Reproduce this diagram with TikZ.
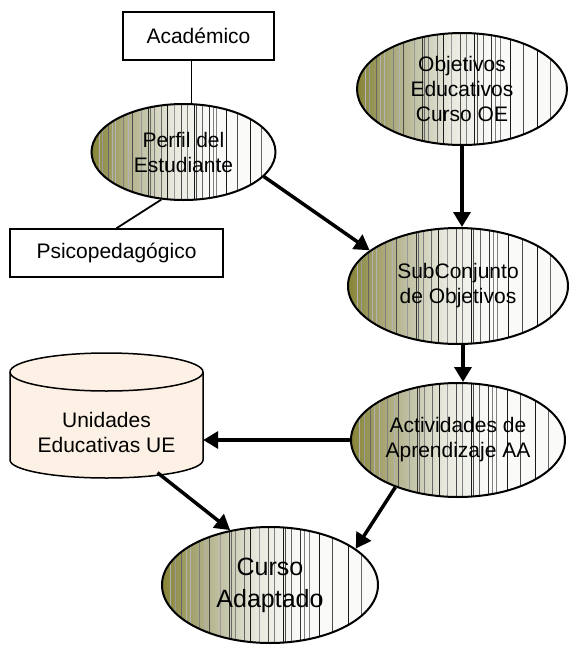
\documentclass[tikz,border=0pt]{standalone}
\usepackage{fontspec}
\setmainfont{Liberation Sans}
\usetikzlibrary{shapes.geometric,arrows.meta,calc}

\definecolor{olivedark}{RGB}{135,132,55}
\definecolor{olivemid}{RGB}{190,190,160}
\definecolor{olivelight}{RGB}{232,232,222}
\definecolor{fadewhite}{RGB}{250,250,248}
\definecolor{peach}{RGB}{253,240,228}
% shading runs from the olive left edge to white at about 60%
\pgfdeclarehorizontalshading{olivefade}{100bp}{color(0bp)=(olivedark); color(25bp)=(olivedark); color(38bp)=(olivemid); color(47bp)=(olivelight); color(57bp)=(fadewhite); color(100bp)=(fadewhite)}

\tikzset{
  stripes/.style={path picture={
    \foreach \f/\g in {0.04/30,0.06/40,0.09/60,0.11/30,0.13/30,0.17/50,0.2/30,0.22/70,0.27/40,0.31/80,0.32/60,0.34/50,0.38/60,0.41/90,0.45/40,0.49/70,0.52/50,0.56/90,0.57/70,0.6/60,0.64/80,0.66/50,0.68/50,0.73/90,0.79/70,0.86/90,0.92/60}
      \draw[black!\g,line width=0.4pt] ($(path picture bounding box.south west)!\f!(path picture bounding box.south east)$) -- ($(path picture bounding box.north west)!\f!(path picture bounding box.north east)$);
  }},
  blob/.style={ellipse,draw,line width=2pt,shade,shading=olivefade,stripes,inner sep=0pt,align=center,font=\fontsize{21}{25}\selectfont},
  tag/.style={rectangle,draw,line width=1.5pt,fill=white,inner sep=0pt,font=\fontsize{21}{25}\selectfont},
  store/.style={rectangle,inner sep=0pt,align=center,font=\fontsize{21}{25}\selectfont},
  drum/.style={draw,line width=1.5pt,fill=peach},
  flow/.style={line width=3.5pt,-{Triangle[length=15pt,width=17pt]}},
  link/.style={line width=1.8pt}
}

\begin{document}
\begin{tikzpicture}[x=1pt,y=-1pt]
    \useasboundingbox (0,0) rectangle (569,646);

    % the drum of the store
    \path[drum] (10,372) -- (10,460) arc[start angle=180,end angle=360,x radius=96.5pt,y radius=18pt]
        -- (203,372) arc[start angle=0,end angle=180,x radius=96.5pt,y radius=19pt] -- cycle;
    \draw[line width=1.5pt] (10,372) arc[start angle=180,end angle=360,x radius=96.5pt,y radius=19pt];

    \node[tag,minimum width=151pt,minimum height=48pt] (acad) at (198.5,36) {Académico};
    \node[tag,minimum width=213pt,minimum height=48pt] (psico) at (116.5,253) {Psicopedagógico};
    \node[blob,minimum width=184pt,minimum height=96pt] (perfil) at (183.5,152) {Perfil del\\Estudiante};
    \node[blob,minimum width=210pt,minimum height=112pt] (obj) at (462,89) {Objetivos\\Educativos\\Curso OE};
    \node[blob,minimum width=220pt,minimum height=116pt] (sub) at (458,286) {SubConjunto\\de Objetivos};
    \node[blob,minimum width=214pt,minimum height=114pt] (act) at (458,440) {Actividades de\\Aprendizaje AA};
    \node[store,minimum width=193pt,minimum height=87pt] (ue) at (106.5,432) {Unidades\\Educativas UE};
    \node[blob,minimum width=216pt,minimum height=116pt,font=\fontsize{25}{32}\selectfont] (curso) at (270,585) {Curso\\Adaptado};

    \draw[link] ([xshift=-7pt]acad.south) -- ([xshift=8pt]perfil.north);
    \draw[link] (psico.north) -- (perfil.245);
    \draw[flow] (perfil.-17) -- (sub.158);
    \draw[flow] (obj.south) -- (obj.south |- sub.north);
    \draw[flow] ([xshift=5pt]sub.south) -- ([xshift=5pt]act.north);
    \draw[flow] (act.west) -- (act.west -| ue.east);
    \draw[flow] ([xshift=51pt,yshift=3pt]ue.south) -- (curso.126);
    \draw[flow] (act.217) -- (curso.23);
\end{tikzpicture}
\end{document}
